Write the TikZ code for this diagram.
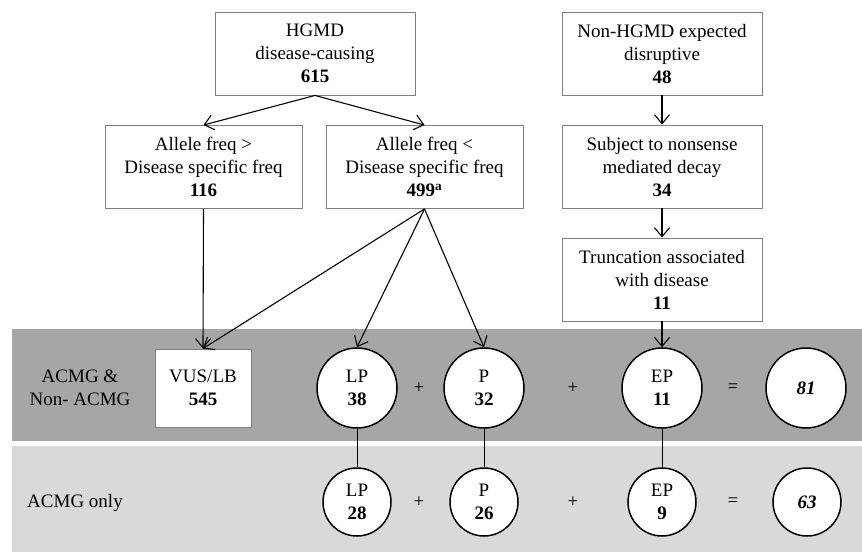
\documentclass[tikz,border=0pt]{standalone}
\usepackage{fontspec}
\setmainfont{Liberation Serif}
\usepackage{tikz}
\usetikzlibrary{arrows.meta}
\definecolor{darkband}{HTML}{A6A6A6}
\definecolor{lightband}{HTML}{D9D9D9}
\definecolor{boxline}{HTML}{7F7F7F}

\begin{document}
\begin{tikzpicture}[x=1pt,y=-1pt,
    every node/.style={font=\fontsize{19}{23}\selectfont, align=center, inner sep=0pt},
    stepbox/.style={draw=boxline, line width=0.9pt, fill=white, minimum width=200pt, minimum height=83pt},
    bigcirc/.style={draw, circle, line width=1.5pt, fill=white, minimum size=80pt},
    smallcirc/.style={draw, circle, line width=1.5pt, fill=white, minimum size=68pt},
    flow/.style={line width=1.1pt, -{Straight Barb[length=9pt,width=15pt,line width=1.1pt]}}]
\useasboundingbox (0,0) rectangle (862,552);
% bands
\fill[darkband] (12,329) rectangle (862,441);
\fill[lightband] (12,446) rectangle (862,552);
\node at (80,388) {ACMG \&\\Non- ACMG};
\node at (75,503) {ACMG only};
% HGMD branch
\node[stepbox] (hgmd) at (315,53.5) {HGMD\\disease-causing\\\textbf{615}};
\node[stepbox, minimum width=197pt] (gt) at (203.5,167) 
      {Allele freq >\\Disease specific freq\\\textbf{116}};
\node[stepbox, minimum width=197pt] (lt) at (424.5,167) 
      {Allele freq <\\Disease specific freq\\\textbf{499\textsuperscript{a}}};
% non-HGMD branch
\node[stepbox] (nonhgmd) at (662,53.5) {Non-HGMD expected\\disruptive\\\textbf{48}};
\node[stepbox] (nmd) at (662,166.5) {Subject to nonsense\\mediated decay\\\textbf{34}};
\node[stepbox] (trunc) at (662,279.5) {Truncation associated\\with disease\\\textbf{11}};
% results, ACMG & non-ACMG
\node[stepbox, minimum width=96pt, minimum height=78pt] (vus) at (203,388) 
      {VUS/LB\\\textbf{545}};
\node[bigcirc] (lp) at (357,388) {LP\\\textbf{38}};
\node (plusa) at (419,388) {+};
\node[bigcirc] (p) at (484,388) {P\\\textbf{32}};
\node (plusb) at (573,388) {+};
\node[bigcirc] (ep) at (662,388) {EP\\\textbf{11}};
\node (eqa) at (733,388) {=};
\node[bigcirc] (sum) at (806,388) {\textbf{\textit{81}}};
% results, ACMG only
\node[smallcirc] (lpacmg) at (357,502) {LP\\\textbf{28}};
\node (plusc) at (419,502) {+};
\node[smallcirc] (pacmg) at (484,502) {P\\\textbf{26}};
\node (plusd) at (573,502) {+};
\node[smallcirc] (epacmg) at (662,502) {EP\\\textbf{9}};
\node (eqb) at (733,502) {=};
\node[smallcirc] (sumacmg) at (807,502) {\textbf{\textit{63}}};
% connectors
\draw[flow] (hgmd.south) -- (gt.north);
\draw[flow] (hgmd.south) -- (lt.north);
\draw[flow] (nonhgmd.south) -- (nmd.north);
\draw[flow] (nmd.south) -- (trunc.north);
\draw[flow] (trunc.south) -- (ep.north);
\draw[flow] (gt.south) -- (vus.north);
\draw[flow] (lt.south) -- (vus.north);
\draw[flow] (lt.south) -- (lp.north);
\draw[flow] (lt.south) -- (p.north);
\draw[line width=1pt] (lp.south) -- (lpacmg.north);
\draw[line width=1pt] (p.south) -- (pacmg.north);
\draw[line width=1pt] (ep.south) -- (epacmg.north);
\end{tikzpicture}
\end{document}
